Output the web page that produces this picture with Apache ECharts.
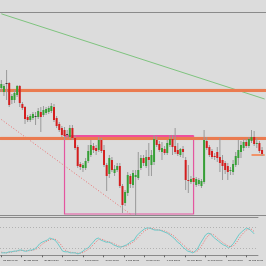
<!DOCTYPE html>
<html><head><meta charset="utf-8">
<script src="https://cdn.jsdelivr.net/npm/echarts@6/dist/echarts.min.js"></script>
<style>html,body{margin:0;padding:0;background:#dcdcdc;}#c{width:266px;height:266px;}</style>
</head><body><div id="c"></div>
<script>
// ---- time axis tick labels (every 8th H4 bar) ----
const tickLabels = ["26 Jan 04:00","27 Jan 12:00","30 Jan 16:00","1 Feb 00:00","2 Feb 08:00","3 Feb 16:00","6 Feb 20:00","8 Feb 04:00","9 Feb 12:00","10 Feb 20:00","14 Feb 00:00","15 Feb 08:00","16 Feb 16:00"];
const barCount = 101;
const categories = Array.from({length: barCount}, (_, i) => i);

// ---- candles ----
const opens = [132,128,137,137,120,120,125,134,116,113, 103,100,102,104,103,108,105,107,108,109, 113,102,96,92,90,86,83,92,82,73, 56,52,52,59,65,74,72,70,80,70, 55,46,60,47,50,54,34,17,27,44, 35,43,42,52,62,54,63,55,58,80, 76,68,71,67,75,81,74,70,65,71, 60,40,38,42,35,36,34,38,79,73, 69,64,68,63,60,57,54,49,48,55, 62,68,72,78,74,79,83,76,77,70];
const closes = [136,134,137,115,124,127,134,117,112,101, 100,104,106,104,109,103,110,111,112,114, 100,94,90,85,84,86,92,82,72,54, 53,55,59,69,75,70,69,80,69,55, 44,62,50,51,54,34,15,28,45,36, 47,45,50,62,57,63,60,65,81,75, 70,72,67,77,81,73,68,66,71,68, 40,39,41,38,41,40,39,80,72,65, 63,63,62,57,54,50,48,50,56,64, 70,75,78,74,81,83,76,77,69,66];
const lows = [128,124,120,113,116,117,123,113,110,96, 98,98,100,95,101,88,103,105,106,107, 98,92,88,83,80,82,81,80,70,52, 50,48,50,57,63,67,65,68,67,53, 29,42,48,44,48,32,7,14,24,32, 32,5,40,50,54,52,44,44,55,73, 68,60,65,65,73,65,66,64,63,62, 30,27,36,36,33,34,32,36,70,63, 61,60,58,48,40,46,40,45,45,53, 55,62,69,72,72,77,74,72,67,64];
const highs = [140,136,150,138,126,130,135,135,118,114, 105,106,108,108,112,113,114,113,114,117, 116,104,98,94,93,90,95,95,85,75, 58,57,62,75,80,77,75,83,82,75, 57,65,63,55,57,57,36,30,48,46, 50,50,68,65,65,70,77,70,85,84, 79,78,74,80,85,85,92,77,72,74, 63,55,44,44,43,42,41,90,83,75, 71,67,73,82,65,59,57,53,60,68, 80,79,81,81,83,90,89,82,79,73];

// ---- stochastic oscillator ----
const stochMain = [7,7,7,10,10,12,12,15,15,12,12, 15,15,18,24,33,38,41,44,50,47, 44,35,24,12,10,10,7,7,7,4, 7,12,18,21,30,38,47,50,44,41, 38,38,35,30,27,24,24,27,30,35, 41,44,56,64,70,76,79,79,76,73, 73,73,70,67,64,59,53,47,38,33, 24,18,12,10,7,12,21,35,47,59, 64,62,53,47,41,35,30,27,21,27, 35,47,59,67,73,79,76,70,62];
const stochSignal = [9,8,7,8,9,11,12,13,14,14,13, 13,14,16,19,25,32,37,41,45,47, 47,42,34,24,15,11,9,8,7,6, 6,8,12,17,23,30,38,45,47,45, 41,39,37,34,30,27,25,25,27,31, 35,40,47,55,63,70,75,78,78,76, 74,73,72,70,67,63,59,53,46,39, 32,25,18,13,10,10,13,23,34,47, 57,62,60,54,47,41,35,31,26,25, 28,36,47,58,66,73,76,75,69];
const stochLevels = [80, 20];

// ---- drawn objects (price levels, rectangle, trendlines) ----
const resistanceUpper = 130;
const resistanceLower = 82;
const shortLevel = {from: 95, to: 100, price: 65};
const rangeBox = {from: 24, to: 73, top: 84, bottom: 6};
const greenTrend = {from: [0, 206.2], to: [100, 121]};
const redTrend = {from: [0, 100.5], to: [49, 6]};

const candleData = opens.map((o, i) => [i, o, closes[i], lows[i], highs[i]]);

const chart = echarts.init(document.getElementById('c'), null, {renderer: 'canvas'});
const gridL = -3.49, gridR = -1.3;
const labelInterval = (idx) => idx % 8 === 0;

chart.setOption({
  animation: false,
  backgroundColor: '#dcdcdc',
  grid: [
    {left: gridL, right: gridR, top: 12, bottom: 51},
    {left: gridL, right: gridR, top: 217, bottom: 9}
  ],
  xAxis: [
    {gridIndex: 0, type: 'category', data: categories, boundaryGap: true, position: 'bottom',
     axisLine: {show: true, lineStyle: {color: '#8a8a8a', width: 1}}, axisTick: {show: false}, axisLabel: {show: false}, splitLine: {show: false}},
    {gridIndex: 0, type: 'category', data: categories, boundaryGap: true, position: 'top',
     axisLine: {show: true, lineStyle: {color: '#8a8a8a', width: 1}}, axisTick: {show: false}, axisLabel: {show: false}, splitLine: {show: false}},
    {gridIndex: 1, type: 'category', data: categories, boundaryGap: true, position: 'bottom',
     axisLine: {show: true, lineStyle: {color: '#8a8a8a', width: 1}},
     axisTick: {show: true, interval: labelInterval, alignWithLabel: true, length: 2, lineStyle: {color: '#666'}},
     axisLabel: {show: true, interval: labelInterval, align: 'left', margin: 2, padding: [0, 0, 0, 2],
       fontSize: 2.5, color: '#111', fontFamily: 'Liberation Sans',
       formatter: (v, idx) => tickLabels[idx / 8] || ''},
     splitLine: {show: false}},
    {gridIndex: 1, type: 'category', data: categories, boundaryGap: true, position: 'top',
     axisLine: {show: true, lineStyle: {color: '#8a8a8a', width: 1}}, axisTick: {show: false}, axisLabel: {show: false}, splitLine: {show: false}}
  ],
  yAxis: [
    {gridIndex: 0, type: 'value', min: 5, max: 208, show: false},
    {gridIndex: 1, type: 'value', min: -5, max: 110.8, show: false}
  ],
  series: [
    {
      type: 'line', xAxisIndex: 0, yAxisIndex: 0, data: categories.map(() => null), silent: true, z: 1,
      symbol: 'none',
      markLine: {
        symbol: 'none', silent: true, label: {show: false}, animation: false,
        data: [
          [{coord: greenTrend.from, lineStyle: {color: '#7fc47f', width: 1, type: 'solid'}}, {coord: greenTrend.to}],
          [{coord: redTrend.from, lineStyle: {color: '#ec6f6f', width: 1, type: [1, 2]}}, {coord: redTrend.to}],
          {yAxis: resistanceUpper, lineStyle: {color: '#ea7b50', width: 3.2, type: 'solid', shadowColor: 'rgba(240,150,110,0.7)', shadowBlur: 1.5}},
          {yAxis: resistanceLower, lineStyle: {color: '#ea7b50', width: 3.2, type: 'solid', shadowColor: 'rgba(240,150,110,0.7)', shadowBlur: 1.5}},
          [{coord: [shortLevel.from, shortLevel.price], lineStyle: {color: '#f0946a', width: 2, type: 'solid'}}, {coord: [shortLevel.to, shortLevel.price]}],
          [{coord: [rangeBox.from, rangeBox.top], lineStyle: {color: '#ee4f9c', width: 2, type: 'solid'}}, {coord: [rangeBox.to, rangeBox.top]}]
        ]
      },
      markArea: {
        silent: true,
        itemStyle: {color: 'rgba(0,0,0,0)', borderColor: '#e4559f', borderWidth: 1.2},
        data: [[{coord: [rangeBox.from, rangeBox.top]}, {coord: [rangeBox.to, rangeBox.bottom]}]]
      }
    },
    {
      type: 'custom', xAxisIndex: 0, yAxisIndex: 0, z: 5, data: candleData,
      encode: {x: 0, y: [1, 2, 3, 4]},
      renderItem: function (params, api) {
        const x = api.value(0), o = api.value(1), c = api.value(2), l = api.value(3), h = api.value(4);
        const po = api.coord([x, o]), pc = api.coord([x, c]), pl = api.coord([x, l]), ph = api.coord([x, h]);
        const w = 2;
        const top = Math.min(po[1], pc[1]);
        const ht = Math.max(1, Math.abs(po[1] - pc[1]));
        const fill = c > o ? '#36a036' : (c < o ? '#d41e1e' : '#3a3a3a');
        return {type: 'group', children: [
          {type: 'line', shape: {x1: ph[0], y1: ph[1], x2: pl[0], y2: pl[1]}, style: {stroke: '#999999', lineWidth: 1}},
          {type: 'rect', shape: {x: po[0] - w / 2, y: top, width: w, height: ht}, style: {fill: fill}}
        ]};
      }
    },
    {
      type: 'line', xAxisIndex: 2, yAxisIndex: 1, data: stochMain, symbol: 'none', silent: true, z: 3,
      lineStyle: {color: '#6ccaca', width: 1},
      markLine: {
        symbol: 'none', silent: true, label: {show: false},
        lineStyle: {color: '#b2b2b2', width: 1, type: [1, 2]},
        data: stochLevels.map(v => ({yAxis: v}))
      }
    },
    {
      type: 'line', xAxisIndex: 2, yAxisIndex: 1, data: stochSignal, symbol: 'none', silent: true, z: 2,
      lineStyle: {color: '#ee7070', width: 1, type: [1, 1.5]}
    }
  ]
});
</script>
</body></html>
